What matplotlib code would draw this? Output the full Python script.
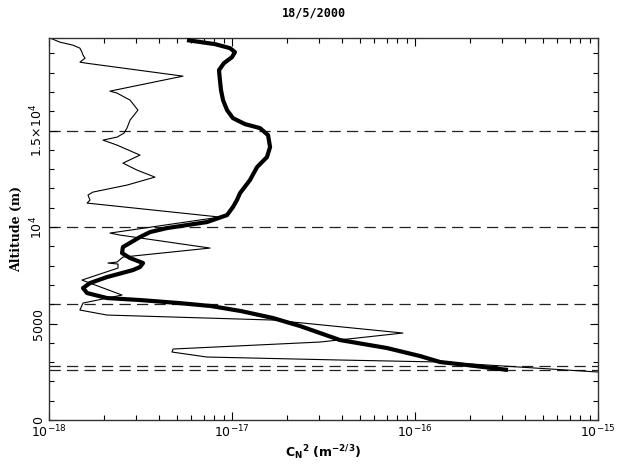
import numpy as np
import matplotlib
matplotlib.use("Agg")
import matplotlib.pyplot as plt
from matplotlib.ticker import FixedLocator, LogLocator, NullFormatter

# Profilo spesso (altitudine in m, log10 Cn2)
alt_thick = [19689, 19482, 19275, 19067, 18808, 18497, 18135, 17617, 17098, 16580,
             16062, 15648, 15337, 15130, 14767, 14145, 13627, 13109, 12435, 11762,
             11399, 11036, 10622, 10259, 9948, 9741, 9482, 8964, 8653, 8394,
             8135, 7927, 7772, 7409, 7098, 6839, 6580, 6321, 6218, 6062,
             5907, 5647, 5285, 4870, 4508, 4145, 3730, 3316, 3005, 2850, 2591]
logc_thick = [-17.246, -17.093, -17.011, -16.984, -17.000, -17.044, -17.071, -17.066, -17.060, -17.049,
              -17.027, -16.995, -16.929, -16.847, -16.803, -16.792, -16.809, -16.863, -16.902, -16.956,
              -16.973, -16.995, -17.027, -17.137, -17.355, -17.448, -17.503, -17.596, -17.601, -17.557,
              -17.486, -17.503, -17.541, -17.683, -17.776, -17.814, -17.792, -17.683, -17.503, -17.290,
              -17.115, -16.951, -16.776, -16.628, -16.519, -16.410, -16.153, -15.973, -15.863, -15.716, -15.492]

# Profilo sottile
alt_thin = [19800, 19584, 19429, 19273, 19066, 18911, 18755, 18548, 18497, 17823,
            17046, 16942, 16580, 16062, 15543, 15129, 14870, 14663, 14507, 14248,
            13730, 13315, 12953, 12590, 12176, 11813, 11658, 11399, 11243, 10518,
            9689, 9585, 8912, 8445, 8186, 8135, 8083, 7875, 7253, 6476,
            6062, 5699, 5440, 5181, 4508, 4041, 3679, 3523, 3264, 3109, 3005, 2487]
logc_thin = [-17.995, -17.940, -17.869, -17.831, -17.820, -17.814, -17.803, -17.831, -17.798, -17.268,
             -17.667, -17.628, -17.557, -17.514, -17.557, -17.574, -17.590, -17.628, -17.705, -17.628,
             -17.503, -17.596, -17.519, -17.421, -17.574, -17.760, -17.787, -17.776, -17.792, -17.066,
             -17.667, -17.612, -17.120, -17.596, -17.628, -17.678, -17.623, -17.623, -17.820, -17.601,
             -17.814, -17.831, -17.683, -16.776, -16.066, -16.519, -17.322, -17.328, -17.137, -16.410, -15.863, -15.000]

# Quote orizzontali tratteggiate
alt_lines = [15000, 10000, 6000, 2800, 2600]

yticks = [0, 5000, 10000, 15000]
ytick_labels = ["0", "5000", r"$10^4$", r"$1.5{\times}10^4$"]
xticks = [1e-18, 1e-17, 1e-16, 1e-15]
xtick_labels = [r"$10^{-18}$", r"$10^{-17}$", r"$10^{-16}$", r"$10^{-15}$"]

fig = plt.figure(figsize=(6.25, 4.68), dpi=100)
ax = fig.add_axes([49/625, 48/468, 549/625, 382/468])

for a in alt_lines:
    ax.axhline(a, color="#222222", lw=0.9, ls=(0, (9, 5)), zorder=1)

ax.plot(10**np.array(logc_thin), alt_thin, color="black", lw=0.8, zorder=2)
ax.plot(10**np.array(logc_thick), alt_thick, color="black", lw=3.0,
        solid_capstyle="butt", solid_joinstyle="round", zorder=3)

ax.set_xscale("log")
ax.set_xlim(1e-18, 1e-15)
ax.set_ylim(0, 19800)

ax.set_xticks(xticks)
ax.set_xticklabels(xtick_labels, fontsize=9)
ax.xaxis.set_minor_locator(LogLocator(base=10, subs=np.arange(2, 10)))
ax.xaxis.set_minor_formatter(NullFormatter())
ax.set_yticks(yticks)
ax.set_yticklabels(ytick_labels, fontsize=9, rotation=90, va="center")
ax.yaxis.set_minor_locator(FixedLocator(np.arange(0, 19801, 1000)))

ax.tick_params(which="both", direction="in", top=True, right=True, width=0.8)
ax.tick_params(which="major", length=6, pad=3)
ax.tick_params(which="minor", length=3.5)
for s in ax.spines.values():
    s.set_linewidth(1.0)
    s.set_color("#333333")

ax.set_xlabel(r"$\mathbf{C_N}^{\mathbf{2}}\ \mathbf{(m^{-2/3})}$", fontsize=9, labelpad=2)
ax.set_ylabel("Altitude (m)", fontsize=9, fontfamily="DejaVu Serif", fontweight="bold", labelpad=4)
fig.text(0.503, 0.972, "18/5/2000", ha="center", va="center", fontsize=8.5,
         fontfamily="DejaVu Sans Mono", fontweight="bold")

fig.savefig("out.png", dpi=100)
